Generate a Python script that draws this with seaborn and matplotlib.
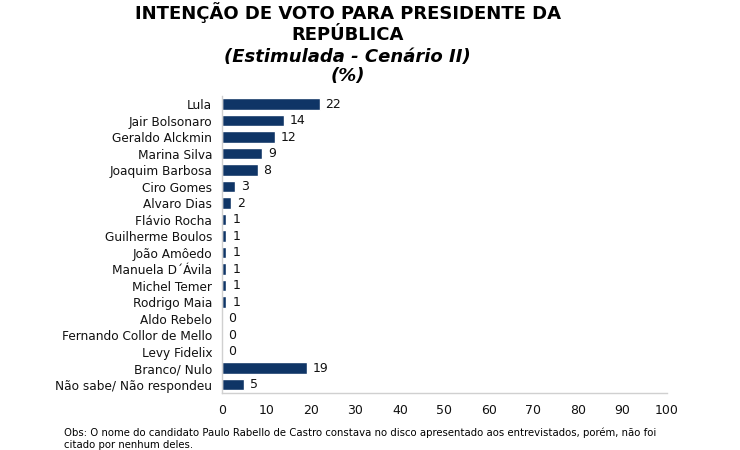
import pandas as pd
import matplotlib.pyplot as plt
import seaborn as sns

candidatos = ["Lula", "Jair Bolsonaro", "Geraldo Alckmin", "Marina Silva",
              "Joaquim Barbosa", "Ciro Gomes", "Alvaro Dias", "Flávio Rocha",
              "Guilherme Boulos", "João Amôedo", "Manuela D´Ávila", "Michel Temer",
              "Rodrigo Maia", "Aldo Rebelo", "Fernando Collor de Mello",
              "Levy Fidelix", "Branco/ Nulo", "Não sabe/ Não respondeu"]
votos = [22, 14, 12, 9, 8, 3, 2, 1, 1, 1, 1, 1, 1, 0, 0, 0, 19, 5]
ticks = [0, 10, 20, 30, 40, 50, 60, 70, 80, 90, 100]

df = pd.DataFrame({"candidato": candidatos, "votos": votos})

sns.set_style("white")
plt.rcParams["font.family"] = ["DejaVu Sans"]
plt.rcParams["text.color"] = "#111111"

fig = plt.figure(figsize=(7.4, 4.5), dpi=100)
ax = fig.add_axes([0.3, 0.127, 0.601, 0.66])

sns.barplot(data=df, x="votos", y="candidato", color="#0f3566",
            saturation=1, width=0.7, ax=ax)

# rótulos de valor
for i, v in enumerate(votos):
    ax.text(v + 1.3, i, str(v), va="center", ha="left", fontsize=9, color="#111111")

ax.set_xlim(0, 100)
ax.set_ylim(len(candidatos) - 0.5, -0.5)
ax.set_xticks(ticks)
ax.set_xlabel("")
ax.set_ylabel("")
ax.tick_params(axis="y", length=0, labelsize=8.7, pad=7, colors="#111111")
ax.tick_params(axis="x", length=3, direction="in", labelsize=9, pad=8,
               color="#d0d0d0", labelcolor="#111111")
for s in ["top", "right"]:
    ax.spines[s].set_visible(False)
for s in ["left", "bottom"]:
    ax.spines[s].set_color("#d0d0d0")
    ax.spines[s].set_linewidth(1)

# título em quatro linhas
titulo = [("INTENÇÃO DE VOTO PARA PRESIDENTE DA", "normal", 0.958),
          ("REPÚBLICA", "normal", 0.912),
          ("(Estimulada - Cenário II)", "italic", 0.862),
          ("(%)", "italic", 0.821)]
for txt, st, y in titulo:
    fig.text(0.47, y, txt, ha="center", va="baseline", fontsize=13,
             fontweight="bold", style=st, color="black")

fig.text(0.087, 0.049, "Obs: O nome do candidato Paulo Rabello de Castro constava no disco "
         "apresentado aos entrevistados, porém, não foi\ncitado por nenhum deles.",
         ha="left", va="top", fontsize=7.3, linespacing=1.2, color="black")

fig.savefig("out.png", dpi=100)
